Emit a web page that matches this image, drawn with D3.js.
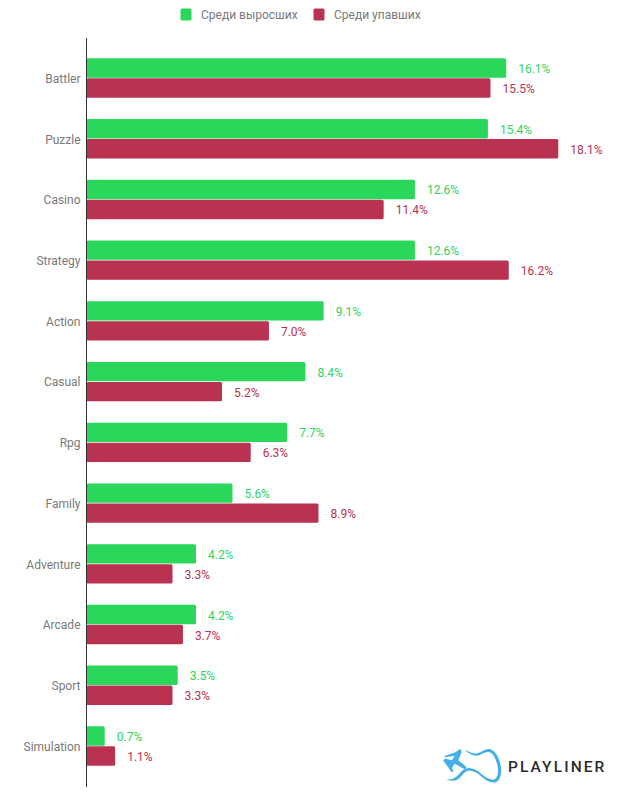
<!DOCTYPE html>
<html><head><meta charset="utf-8">
<script src="https://cdn.jsdelivr.net/npm/d3@7"></script>
<style>html,body{margin:0;padding:0;background:#fff}svg{display:block}text{font-family:Roboto,sans-serif}</style>
</head><body><svg id="c" width="621" height="799"></svg>
<script>
const categories=["Battler","Puzzle","Casino","Strategy","Action","Casual","Rpg","Family","Adventure","Arcade","Sport","Simulation"];
const grown=[16.1,15.4,12.6,12.6,9.1,8.4,7.7,5.6,4.2,4.2,3.5,0.7];
const fallen=[15.5,18.1,11.4,16.2,7.0,5.2,6.3,8.9,3.3,3.7,3.3,1.1];
const seriesNames=["Среди выросших","Среди упавших"];
const colors=["#2bd75b","#b93252"];
const labelColors=["#2fd35f","#b93252"];

const svg=d3.select("#c");
const y=d3.scaleBand().domain(categories).range([47.6,776.4]);
const x=d3.scaleLinear().domain([0,18.1]).range([86.5,558.3]);
const barH=19.4;

[grown,fallen].forEach((vals,s)=>{
  const g=svg.append("g");
  const top=c=>y(c)+y.bandwidth()/2+(s===0?-barH-0.3:0.3);
  g.selectAll("rect").data(categories).join("rect")
    .attr("x",x(0)).attr("y",top)
    .attr("width",(c,i)=>x(vals[i])-x(0)).attr("height",barH)
    .attr("rx",1.5).attr("fill",colors[s]);
  g.selectAll("text").data(categories).join("text")
    .attr("x",(c,i)=>x(vals[i])+12).attr("y",c=>top(c)+barH/2+5)
    .attr("font-size",12).attr("fill",labelColors[s])
    .text((c,i)=>vals[i].toFixed(1)+"%");
});

const axis=d3.axisLeft(y).tickSize(0).tickPadding(6);
const ag=svg.append("g").attr("transform","translate(86.5,1)").call(axis);
ag.select(".domain").remove();
ag.selectAll("text").attr("font-size",12).attr("fill","#7a7a7a").attr("font-family","Roboto,sans-serif");
svg.append("line").attr("x1",86.5).attr("x2",86.5).attr("y1",38).attr("y2",787).attr("stroke","#333").attr("stroke-width",1);

const lx=[180,313];
seriesNames.forEach((n,i)=>{
  svg.append("rect").attr("x",lx[i]+.5).attr("y",8.5).attr("width",11).attr("height",12).attr("rx",1.5).attr("fill",colors[i]);
  svg.append("text").attr("x",lx[i]+21).attr("y",19).attr("font-size",12).attr("fill","#7a7a7a").text(n);
});

const logo=svg.append("g").attr("transform","translate(430,730) scale(0.3333)");
logo.append("path").attr("fill","#45b0e6")
  .attr("d","M104 60 C120 66 132 72 142 70 C155 66 165 56 178 57 C195 60 207 82 212 105 C216 128 212 150 198 157 C180 160 165 150 150 136 C135 124 122 120 110 124 C98 130 92 146 78 151 C66 154 56 152 50 148 C58 148 66 148 74 143 C86 136 92 122 106 116 C122 111 138 118 152 130 C166 142 182 152 194 148 C204 142 206 124 202 105 C197 84 188 68 176 66 C164 65 154 74 142 77 C130 79 116 70 104 60 Z");
logo.append("path").attr("fill","#45b0e6")
  .attr("d","M91 58 C96 60 95 68 92 74 L85 91 L110 111 L104 118 L74 101 L66 113 L71 125 L63 125 L56 114 L42 95 L40 90 L46 86 L66 91 L74 77 L46 82 L42 79 L78 66 C83 62 87 58 91 58 Z");
svg.append("text").attr("x",508).attr("y",772).attr("font-size",15.5).attr("font-weight",500).attr("letter-spacing",2.1).attr("fill","#2b2b2b").text("PLAYLINER");
</script></body></html>
